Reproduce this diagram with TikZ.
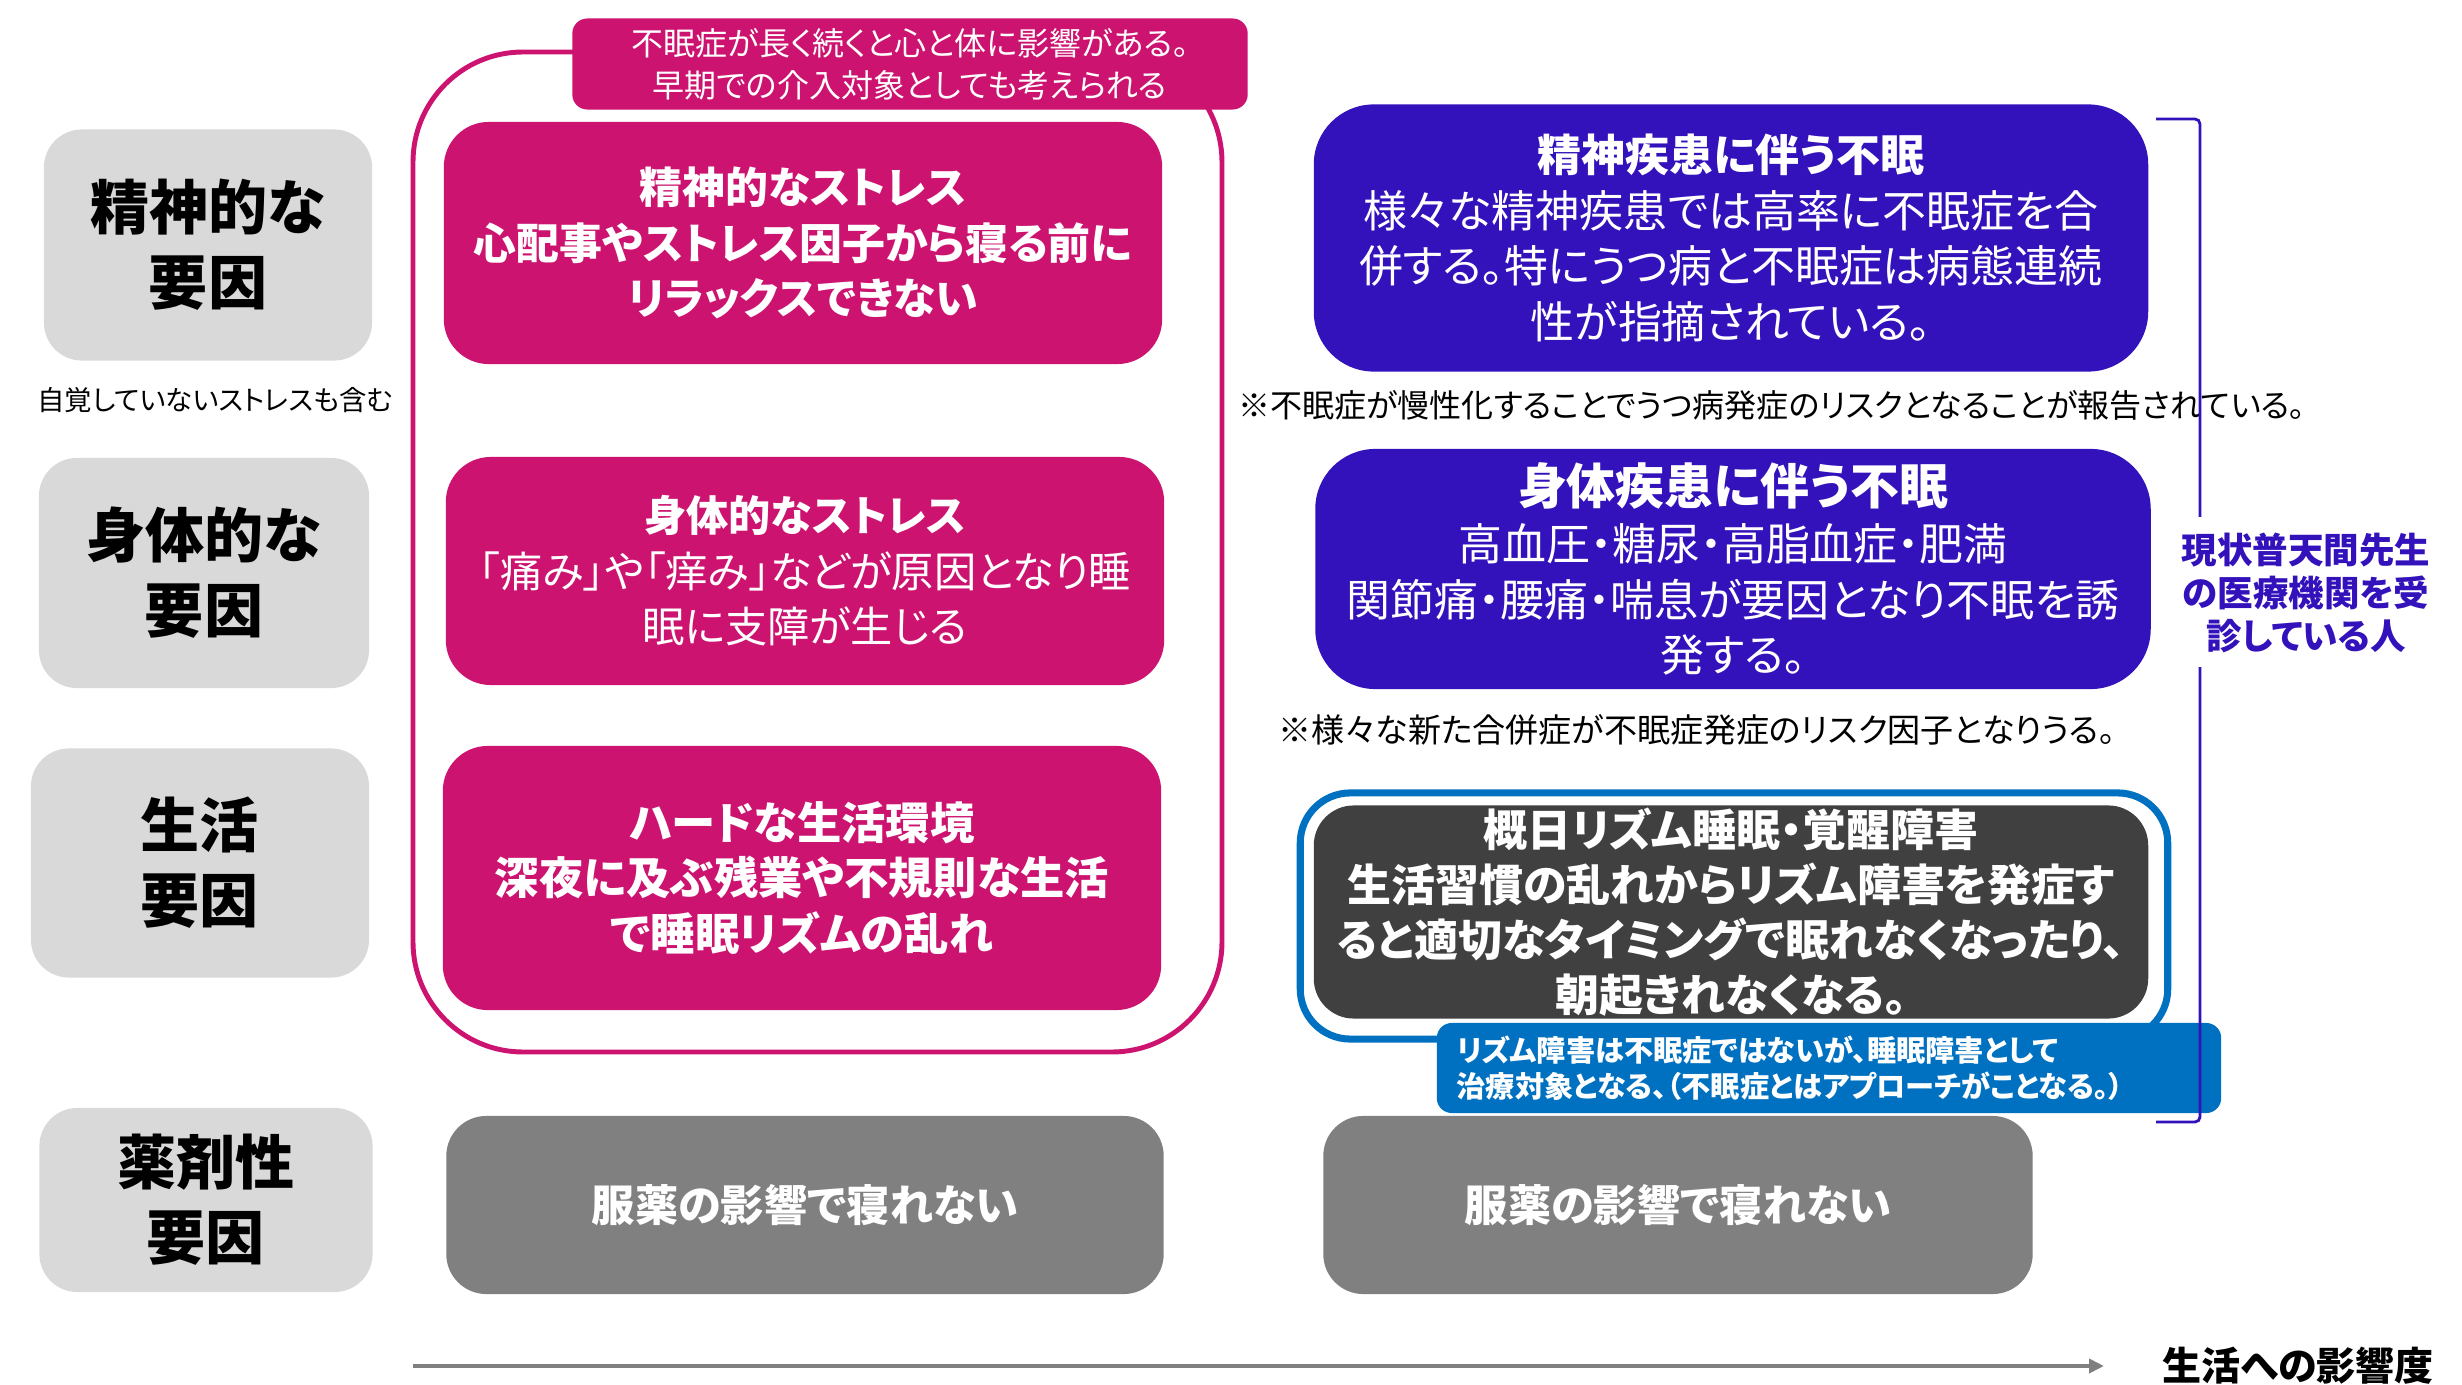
\documentclass[tikz,border=0pt]{standalone}
\usepackage{fontspec}
\setmainfont{Noto Sans CJK JP}[RawFeature={+palt}]
\usetikzlibrary{arrows.meta}
\definecolor{rose}{RGB}{204,19,112}
\definecolor{indigo}{RGB}{51,17,187}
\definecolor{paleg}{RGB}{217,217,217}
\definecolor{darkg}{RGB}{64,64,64}
\definecolor{midg}{RGB}{128,128,128}
\definecolor{ocean}{RGB}{0,112,192}

\begin{document}
\begin{tikzpicture}[x=0.01cm,y=-0.01cm,
  every node/.style={inner sep=0pt,align=center},
  factor/.style={fill=paleg,rounded corners=0.38cm,font=\fontsize{16.8}{21.3}\selectfont\bfseries},
  stress/.style={fill=rose,text=white,rounded corners=0.45cm,minimum width=7.18cm,font=\fontsize{12}{15.8}\selectfont},
  stressbold/.style={stress,font=\fontsize{12.2}{15.8}\selectfont\bfseries},
  illness/.style={fill=indigo,text=white,rounded corners=0.6cm,font=\fontsize{12.5}{15.9}\selectfont},
  drug/.style={fill=midg,text=white,rounded corners=0.4cm,minimum height=1.78cm,font=\fontsize{12.3}{15}\selectfont\bfseries},
  remark/.style={font=\fontsize{9.1}{12}\selectfont},
  bracket/.style={indigo,line width=0.8pt,rounded corners=0.05cm}]
\useasboundingbox (0,0) rectangle (2462,1385);

\node[factor,minimum width=3.28cm,minimum height=2.31cm] (mental) at (208,245) {精神的な\\要因};
\node[factor,minimum width=3.30cm,minimum height=2.30cm] (physical) at (204,573) {身体的な\\要因};
\node[factor,minimum width=3.38cm,minimum height=2.29cm] (living) at (200,863) {生活\\要因};
\node[factor,minimum width=3.33cm,minimum height=1.84cm] (drugfactor) at (206,1200) {薬剤性\\要因};
\node[font=\fontsize{7.8}{9}\selectfont] (unaware) at (215,400) {自覚していないストレスも含む};

\draw[rose,line width=1.4pt,rounded corners=1.1cm] (413,52) rectangle (1222,1052);
\node[remark,fill=rose,text=white,rounded corners=0.15cm,minimum width=6.75cm,minimum height=0.91cm] (early) at (910,64) {不眠症が長く続くと心と体に影響がある。\\早期での介入対象としても考えられる};

\node[stressbold,minimum height=2.42cm] (mstress) at (803,243) {精神的なストレス\\心配事やストレス因子から寝る前に\\リラックスできない};
\node[stress,minimum height=2.28cm] (pstress) at (805,571) {{\bfseries 身体的なストレス}\\「痛み」や「痒み」などが原因となり睡\\眠に支障が生じる};
\node[stressbold,minimum height=2.64cm,font=\fontsize{12.6}{15.8}\selectfont\bfseries] (lstress) at (802,878) {ハードな生活環境\\深夜に及ぶ残業や不規則な生活\\で睡眠リズムの乱れ};

\node[illness,minimum width=8.34cm,minimum height=2.67cm] (psyill) at (1731,238) {{\fontsize{12.5}{15.9}\selectfont\bfseries 精神疾患に伴う不眠}\\様々な精神疾患では高率に不眠症を合\\併する。特にうつ病と不眠症は病態連続\\性が指摘されている。};
\node[remark] (chronic) at (1772,405) {※不眠症が慢性化することでうつ病発症のリスクとなることが報告されている。};
\node[illness,minimum width=8.35cm,minimum height=2.40cm] (somill) at (1733,569) {{\fontsize{13.9}{15.9}\selectfont\bfseries 身体疾患に伴う不眠}\\高血圧・糖尿・高脂血症・肥満\\関節痛・腰痛・喘息が要因となり不眠を誘\\発する。};
\node[remark,font=\fontsize{9.4}{11}\selectfont] (comorb) at (1697,730) {※様々な新た合併症が不眠症発症のリスク因子となりうる。};

\node[draw=ocean,line width=2pt,rounded corners=0.5cm,minimum width=8.67cm,minimum height=2.46cm] (rhythmframe) at (1734,916) {};
\node[fill=darkg,text=white,rounded corners=0.4cm,minimum width=8.34cm,minimum height=2.13cm,font=\fontsize{12.5}{15.6}\selectfont\bfseries] (rhythm) at (1731,912) {概日リズム睡眠・覚醒障害\\生活習慣の乱れからリズム障害を発症す\\ると適切なタイミングで眠れなくなったり、\\朝起きれなくなる。};
\node[fill=ocean,text=white,rounded corners=0.15cm,text width=7.44cm,inner xsep=0.2cm,minimum height=0.9cm,align=left,font=\fontsize{8.3}{10.3}\selectfont\bfseries] (rhythmnote) at (1829,1068) {リズム障害は不眠症ではないが、睡眠障害として\\治療対象となる、（不眠症とはアプローチがことなる。）};

\node[drug,minimum width=7.17cm] (pill1) at (805,1205) {服薬の影響で寝れない};
\node[drug,minimum width=7.09cm] (pill2) at (1678,1205) {服薬の影響で寝れない};

\node[text=indigo,font=\fontsize{10.1}{12.2}\selectfont\bfseries] (clinic) at (2306,593) {現状普天間先生\\の医療機関を受\\診している人};
\coordinate (brtop) at (2156,119);
\coordinate (brgap0) at (2200,517);
\coordinate (brgap1) at (2200,667);
\coordinate (brbot) at (2156,1122);
\draw[bracket] (brtop) -| (brgap0);
\draw[bracket] (brbot) -| (brgap1);

\coordinate (axis0) at (413,1366);
\coordinate (axis1) at (2104,1366);
\draw[midg,line width=1.4pt,-{Triangle[length=0.15cm,width=0.14cm]}] (axis0) -- (axis1);
\node[font=\fontsize{11.1}{13}\selectfont\bfseries] (impact) at (2298,1366) {生活への影響度};
\end{tikzpicture}
\end{document}
